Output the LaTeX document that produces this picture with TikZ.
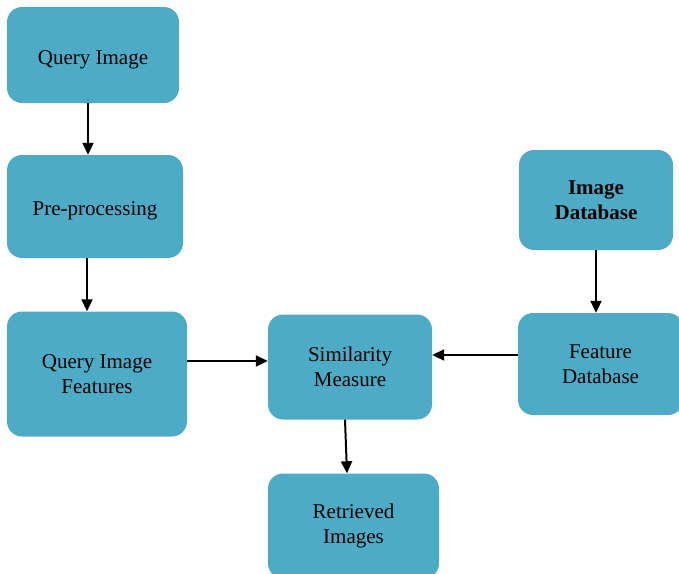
\documentclass[tikz,border=0pt]{standalone}
\usepackage{fontspec}
\setmainfont{Liberation Serif}
\usepackage{tikz}
\usetikzlibrary{arrows.meta}
\definecolor{boxblue}{rgb}{0.306,0.671,0.776}

\begin{document}
\begin{tikzpicture}
  [x=1pt,y=-1pt,
   every node/.style={rectangle,rounded corners=15pt,fill=boxblue,inner sep=0pt,
     align=center,font=\fontsize{21}{25}\selectfont},
   oneline/.style={text height=23pt},
   arr/.style={line width=2pt,-{Triangle[length=12pt,width=11pt]}}]

  \useasboundingbox (0,0) rectangle (679,573);

  \node[oneline,minimum width=172pt,minimum height=96pt] (qimg) at (93,55) {Query Image};
  \node[oneline,minimum width=176pt,minimum height=103pt] (prep) at (95,206.5) {Pre-processing};
  \node[minimum width=180pt,minimum height=125pt] (qfeat) at (97,374) {Query Image\\Features};
  \node[minimum width=164pt,minimum height=105pt] (sim) at (350,367) {Similarity\\Measure};
  \node[minimum width=171pt,minimum height=105pt] (ret) at (353.5,526) {Retrieved\\Images};
  \node[minimum width=154pt,minimum height=100pt,font=\fontsize{21}{25}\selectfont\bfseries] (imgdb) at (596,200) {Image\\Database};
  \node[minimum width=165pt,minimum height=102pt] (featdb) at (600.5,364) {Feature\\Database};

  \draw[arr] ([xshift=-5pt]qimg.south) -- ([xshift=-7pt]prep.north);
  \draw[arr] ([xshift=-8pt]prep.south) -- ([xshift=-10pt]qfeat.north);
  \draw[arr] ([yshift=13pt]qfeat.east) -- ([yshift=6pt]sim.west);
  \draw[arr] ([yshift=9pt]featdb.west) -- ([yshift=12pt]sim.east);
  \draw[arr] ([xshift=-5pt]sim.south) -- ([xshift=-6.5pt]ret.north);
  \draw[arr] (imgdb.south) -- ([xshift=-4.5pt]featdb.north);
\end{tikzpicture}
\end{document}
